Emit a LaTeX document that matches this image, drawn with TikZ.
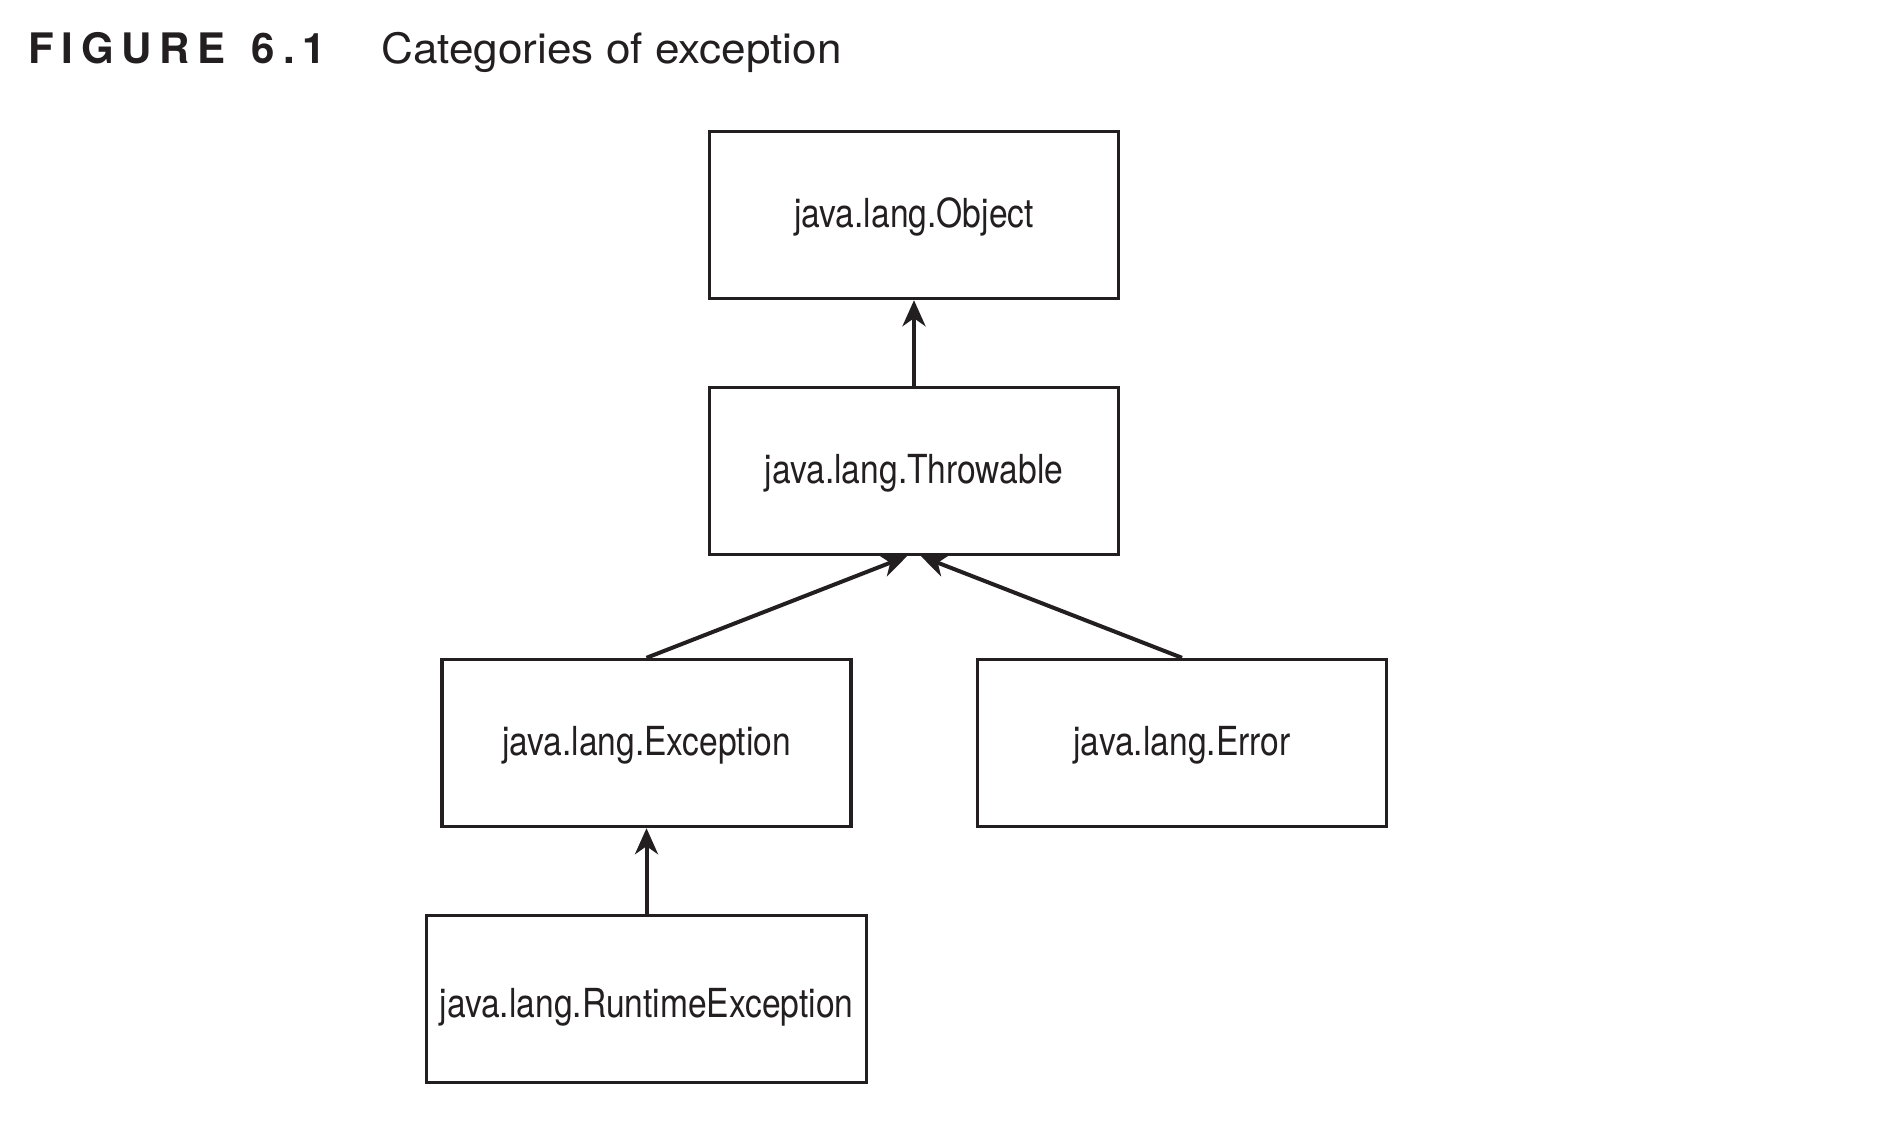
\documentclass[tikz,border=0pt]{standalone}
\usepackage{fontspec}
\setmainfont{TeX Gyre Heros}
\newfontfamily\boxfont{TeX Gyre Heros}[FakeStretch=0.84]
\newfontfamily\capfont{TeX Gyre Heros}[FakeStretch=1.055]
\newfontfamily\figfont{TeX Gyre Heros}[LetterSpace=18.5]
\usetikzlibrary{arrows.meta}
\definecolor{ink}{RGB}{35,31,32}
\begin{document}
\begin{tikzpicture}[x=0.5pt,y=-0.5pt,
  cls/.style={draw=ink, line width=1.7pt, rectangle, inner sep=0pt,
    minimum width=204.5pt, minimum height=83.5pt,
    text height=16pt, text depth=4pt,
    font=\boxfont\fontsize{20pt}{23pt}\selectfont, text=ink},
  wide/.style={cls, minimum width=220pt, text height=22pt},
  inh/.style={draw=ink, line width=2pt, -{Stealth[length=13pt,width=11.5pt,inset=4pt]}}
]
\useasboundingbox (0,0) rectangle (1903,1121);
\fill[white] (0,0) rectangle (1903,1121);
% title
\node[anchor=base west, inner sep=0pt, text=ink,
  font=\figfont\bfseries\fontsize{21pt}{24pt}\selectfont] (fig) at (28,63) {FIGURE\hspace{13pt}6.1};
\node[anchor=base west, inner sep=0pt, text=ink,
  font=\capfont\fontsize{20.9pt}{24pt}\selectfont] (cap) at (381,63) {Categories of exception};
% classes
\node[cls] (obj) at (914,215) {java.lang.Object};
\node[cls] (thr) at (914,471) {java.lang.Throwable};
\node[cls] (exc) at (646.5,743) {java.lang.Exception};
\node[cls] (err) at (1182,743) {java.lang.Error};
\node[wide] (re) at (646.5,999) {java.lang.RuntimeException};
% connectors
\draw[inh] (thr.north) -- (obj.south);
\draw[inh] (exc.north) -- ([xshift=-3.5pt]thr.south);
\draw[inh] (err.north) -- ([xshift=3.5pt]thr.south);
\draw[inh] (re.north) -- (exc.south);
\end{tikzpicture}
\end{document}
